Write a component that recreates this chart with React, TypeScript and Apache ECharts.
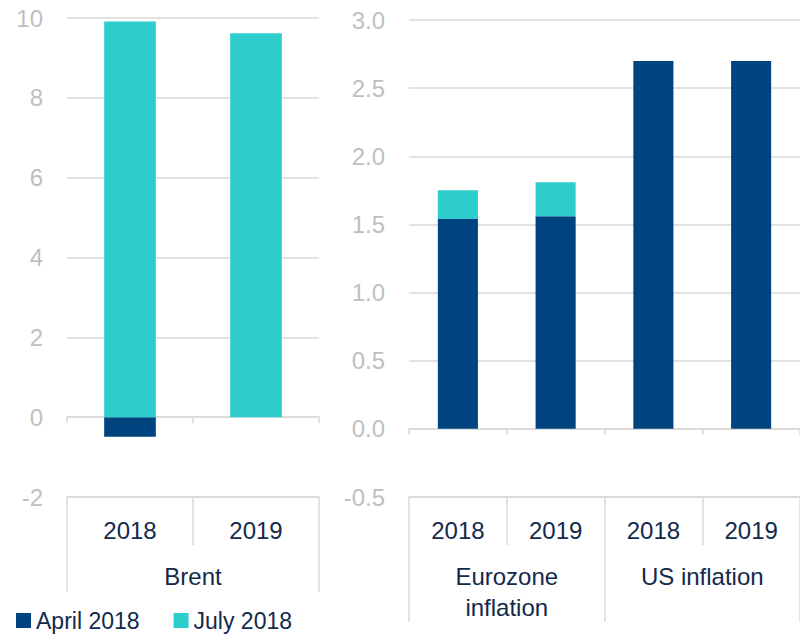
import React, { useEffect, useRef } from "react";
import * as echarts from "echarts";

const brentYears = ["2018", "2019"];
const brentGroups = ["Brent"];
const brentApril = [-0.49, 0];
const brentJuly = [9.91, 9.62];

const inflYears = ["2018", "2019", "2018", "2019"];
const inflGroups = ["Eurozone\ninflation", "US inflation"];
const inflApril = [1.54, 1.56, 2.7, 2.7];
const inflJuly = [0.21, 0.25, 0, 0];

const seriesNames = ["April 2018", "July 2018"];
const colors = ["#00447F", "#2ECDCD"];

const FONT = "'Liberation Sans', Arial, sans-serif";
const NAVY = "#13294B";
const GRID_C = "#D9D9D9";
const LABEL_C = "#BFBFBF";
const FS = 24;

export default function App() {
  const ref = useRef<HTMLDivElement>(null);
  useEffect(() => {
    if (!ref.current) return;
    const chart = echarts.init(ref.current, undefined, { renderer: "svg" });
    const lineStyle = { color: GRID_C, width: 1.5 };
    const zeroAxis = (gridIndex: number, data: string[]) => ({
      type: "category",
      gridIndex,
      data,
      boundaryGap: true,
      axisLine: { show: true, onZero: true, lineStyle },
      axisTick: { show: true, length: 6, lineStyle },
      axisLabel: { show: false },
    });
    const yearAxis = (gridIndex: number, data: string[]) => ({
      type: "category",
      gridIndex,
      data,
      position: "bottom",
      boundaryGap: true,
      axisLine: { show: true, onZero: false, lineStyle },
      axisTick: { show: true, length: 48, lineStyle },
      axisLabel: { show: true, margin: 21, fontSize: FS, color: NAVY, fontFamily: FONT },
    });
    const groupAxis = (gridIndex: number, data: string[], tickLen: number) => ({
      type: "category",
      gridIndex,
      data,
      position: "bottom",
      offset: 48,
      boundaryGap: true,
      axisLine: { show: false, onZero: false },
      axisTick: { show: true, length: tickLen, lineStyle },
      axisLabel: {
        show: true,
        margin: 16,
        fontSize: FS,
        lineHeight: 31,
        color: NAVY,
        fontFamily: FONT,
        interval: 0,
      },
    });
    const yAxis = (gridIndex: number, min: number, max: number, interval: number, dec: number) => ({
      type: "value",
      gridIndex,
      min,
      max,
      interval,
      axisLine: { show: false },
      axisTick: { show: false },
      splitLine: { show: true, lineStyle },
      axisLabel: {
        margin: 24,
        fontSize: FS,
        color: LABEL_C,
        fontFamily: FONT,
        formatter: (v: number) => v.toFixed(dec),
      },
    });
    const bar = (name: string, color: string, data: number[], xi: number, yi: number, stack: string) => ({
      type: "bar",
      name,
      data,
      xAxisIndex: xi,
      yAxisIndex: yi,
      stack,
      barWidth: "41%",
      itemStyle: { color },
    });
    chart.setOption({
      animation: false,
      textStyle: { fontFamily: FONT },
      legend: {
        data: seriesNames,
        left: 16,
        top: 609,
        padding: 0,
        icon: "rect",
        itemWidth: 15,
        itemHeight: 15,
        itemGap: 34,
        textStyle: { fontSize: 23, color: NAVY, fontFamily: FONT, lineHeight: 23 },
      },
      grid: [
        { left: 67, top: 18, width: 252, height: 479 },
        { left: 409, top: 20, width: 391, height: 477 },
      ],
      xAxis: [
        zeroAxis(0, brentYears),
        yearAxis(0, brentYears),
        groupAxis(0, brentGroups, 47),
        zeroAxis(1, inflYears),
        yearAxis(1, inflYears),
        groupAxis(1, inflGroups, 77),
      ],
      yAxis: [yAxis(0, -2, 10, 2, 0), yAxis(1, -0.5, 3, 0.5, 1)],
      series: [
        bar(seriesNames[0], colors[0], brentApril, 0, 0, "b"),
        bar(seriesNames[1], colors[1], brentJuly, 0, 0, "b"),
        bar(seriesNames[0], colors[0], inflApril, 3, 1, "i"),
        bar(seriesNames[1], colors[1], inflJuly, 3, 1, "i"),
      ],
    });
    return () => chart.dispose();
  }, []);
  return (
    <div
      ref={ref}
      style={{ position: "fixed", left: 0, top: 0, width: 800, height: 634, background: "#fff" }}
    />
  );
}
